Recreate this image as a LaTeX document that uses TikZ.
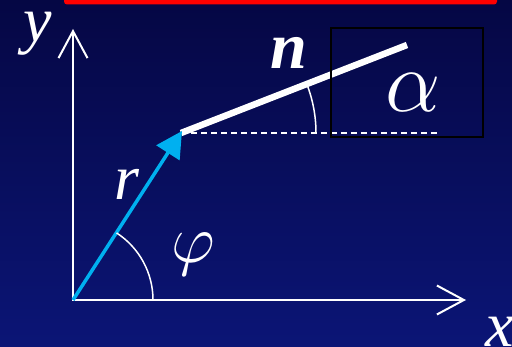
\RequirePackage{fix-cm}
\documentclass[tikz,border=0pt]{standalone}
\usepackage{fontspec}
\setmainfont{Liberation Serif}
\usetikzlibrary{arrows.meta}
\definecolor{bgtop}{RGB}{5,7,68}
\definecolor{bgbot}{RGB}{11,21,118}
\definecolor{vcyan}{RGB}{0,176,240}
\tikzset{
  axis/.style={white, line width=2pt, -{Straight Barb[length=27pt,width=29pt,line width=2pt]}},
  lbl/.style={white, inner sep=0pt, anchor=base, font=\fontsize{64}{70}\selectfont\itshape},
  anglearc/.style={white, line width=1.5pt},
}
\begin{document}
\begin{tikzpicture}[x=1pt,y=1pt]
  \useasboundingbox (0,0) rectangle (512,-347);
  \shade[top color=bgtop, bottom color=bgbot] (0,0) rectangle (512,-347);
  \fill[red, rounded corners=3pt] (64,8) rectangle (497,-4.5);
  \coordinate (O) at (73,-300);
  \coordinate (Y) at (73,-29);
  \coordinate (X) at (466,-300);
  \coordinate (P) at (181,-133);
  \coordinate (N) at (407,-45);
  \coordinate (D) at (437,-133);
  % axes
  \draw[axis] (73,-301) -- (Y);
  \draw[axis] (72,-300) -- (X);
  % dashed horizontal
  \draw[white, line width=1.6pt, dash pattern=on 6pt off 4pt] (P) -- (D);
  % plane line n
  \draw[white, line width=6.5pt] (P) -- (N);
  % vector r
  \draw[vcyan, line width=3.5pt, -{Triangle[length=26pt,width=27pt]}] (O) -- (182,-131);
  % angle arcs
  \draw[anglearc] (O) ++(80,0) arc[start angle=0, end angle=57, radius=80];
  \draw[anglearc] (P) ++(135,0) arc[start angle=0, end angle=21.3, radius=135];
  % box
  \draw[black, line width=1.6pt] (331,-28) rectangle (483,-137);
  % labels
  \node[lbl] (ly) at (38,-42) {y};
  \node[lbl] (lx) at (500,-347) {x};
  \node[lbl] (lr) at (127,-200) {r};
  \node[lbl, font=\fontsize{68}{74}\selectfont] (lphi) at (193,-263) {$\varphi$};
  \node[lbl, font=\fontsize{66}{72}\selectfont\bfseries\itshape] (ln) at (289,-69) {n};
  \node[lbl, font=\fontsize{88}{94}\selectfont] (la) at (413,-112) {$\alpha$};
\end{tikzpicture}
\end{document}
